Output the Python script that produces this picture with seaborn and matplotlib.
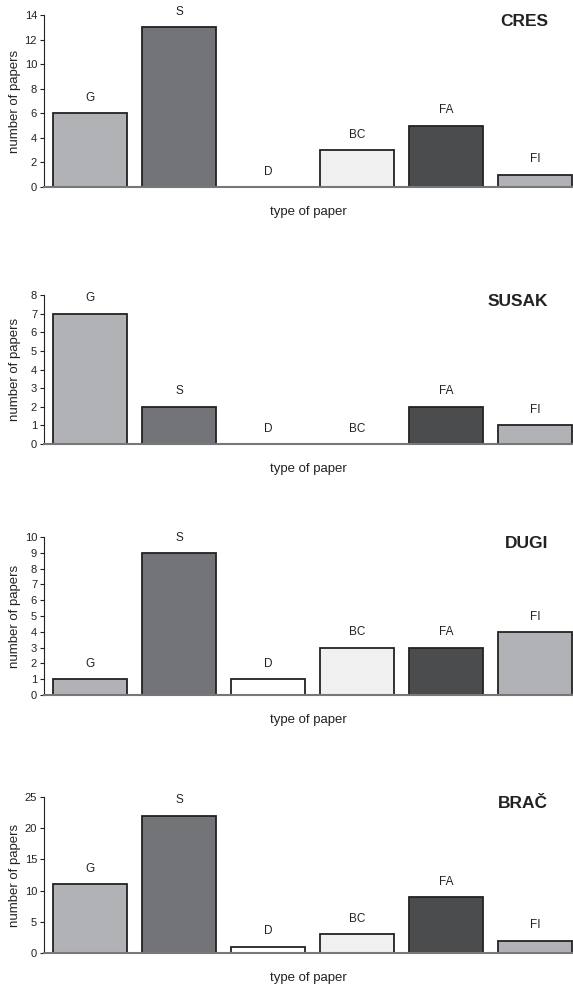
import matplotlib
matplotlib.use("Agg")
import matplotlib.pyplot as plt
import seaborn as sns
import pandas as pd

sns.set_theme(style="white")
plt.rcParams["font.family"] = ["Liberation Sans", "DejaVu Sans"]

types = ["G", "S", "D", "BC", "FA", "FI"]
islands = ["CRES", "SUSAK", "DUGI", "BRAČ"]
cres = [6, 13, 0, 3, 5, 1]
susak = [7, 2, 0, 0, 2, 1]
dugi = [1, 9, 1, 3, 3, 4]
brac = [11, 22, 1, 3, 9, 2]
counts = [cres, susak, dugi, brac]
y_max = [14, 8, 10, 25]
y_step = [2, 1, 1, 5]

colors = {"G": "#b1b2b5", "S": "#737478", "D": "#ffffff",
          "BC": "#f0f0f0", "FA": "#4b4c4e", "FI": "#b1b2b5"}

W, H = 573, 985
fig = plt.figure(figsize=(W / 100, H / 100), dpi=100)

# panel boxes in pixels: (top, bottom)
boxes = [(15, 187), (295, 444), (537, 695), (797, 953)]
left_px, right_px = 44, 573

for name, vals, ymax, step, (top, bot) in zip(islands, counts, y_max, y_step, boxes):
    ax = fig.add_axes([left_px / W, 1 - bot / H, (right_px - left_px) / W, (bot - top) / H])
    df = pd.DataFrame({"type": types, "n": vals})
    sns.barplot(data=df, x="type", y="n", hue="type", palette=colors, order=types,
                hue_order=types, legend=False, width=0.83, edgecolor="#222222",
                linewidth=1.3, ax=ax, saturation=1)
    for i, (t, v) in enumerate(zip(types, vals)):
        ax.annotate(t, (i, v), xytext=(0, 11), textcoords="offset points",
                    ha="center", va="center", fontsize=8.5, color="#222222")
    ax.set_xlim(-0.52, 5.43)
    ax.set_ylim(0, ymax)
    ax.set_yticks(range(0, ymax + 1, step))
    ax.set_xticks([])
    ax.set_xlabel("type of paper", fontsize=9.5, color="#222222", labelpad=14)
    ax.set_ylabel("number of papers", fontsize=9.5, color="#222222")
    ax.yaxis.set_label_coords((21 - left_px) / (right_px - left_px), 0.5)
    ax.tick_params(axis="y", labelsize=8, length=3, width=0.8, color="#222222",
                   left=True, pad=2, labelcolor="#222222")
    for s in ["top", "right"]:
        ax.spines[s].set_visible(False)
    ax.spines["left"].set_color("#222222")
    ax.spines["left"].set_linewidth(0.8)
    ax.spines["bottom"].set_color("#777777")
    ax.spines["bottom"].set_linewidth(1.5)
    ax.patch.set_alpha(0)
    fig.text(548 / W, 1 - (top + 6) / H, name, ha="right", va="center",
             fontsize=12.5, fontweight="bold", color="#222222")

fig.savefig("out.png", dpi=100, facecolor="white")
